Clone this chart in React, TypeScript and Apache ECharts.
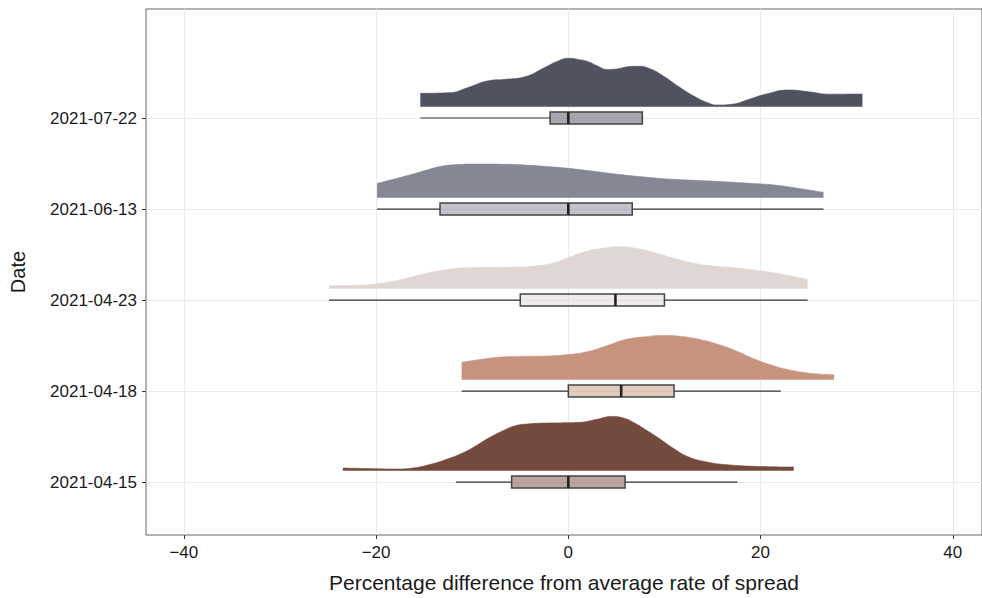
import React, { useEffect, useRef } from "react";
import * as echarts from "echarts";

// Categories (bottom to top)
const dates = ["2021-04-15", "2021-04-18", "2021-04-23", "2021-06-13", "2021-07-22"];
const fillColors = ["#744a3e", "#c8937e", "#e0d7d5", "#858795", "#50525f"];

// Density curves: x values and relative density heights (fraction of row spacing)
const dens0415X = [-23.45, -20, -17.9, -16, -14.5, -12.8, -11, -9.6, -8.3, -6.8, -5.5, -4, -2.4, 1, 3, 4.5, 5.8, 6.9, 8.3, 9.65, 11, 12.4, 14.3, 16.55, 20, 23.45];
const dens0415Y = [0.03, 0.022, 0.019, 0.033, 0.066, 0.121, 0.195, 0.275, 0.359, 0.44, 0.495, 0.516, 0.524, 0.531, 0.566, 0.597, 0.577, 0.524, 0.434, 0.341, 0.242, 0.157, 0.099, 0.066, 0.047, 0.041];

const dens0418X = [-11.1, -9, -6.55, -4.3, -2.07, 0, 2.07, 4, 5.87, 8, 10, 12, 13.8, 15.7, 17.6, 19.3, 21, 22.7, 24.5, 26, 27.65];
const dens0418Y = [0.19, 0.225, 0.252, 0.258, 0.262, 0.277, 0.311, 0.374, 0.44, 0.473, 0.487, 0.473, 0.44, 0.385, 0.311, 0.231, 0.165, 0.115, 0.08, 0.064, 0.055];

const dens0423X = [-24.9, -22, -19.8, -17.5, -15.5, -12.8, -10.3, -7.8, -5.2, -3.5, -1.7, 0, 1.72, 3.5, 5.5, 7, 8.6, 10.8, 13.1, 15, 17.2, 20.7, 22.8, 24.9];
const dens0423Y = [0.033, 0.038, 0.055, 0.099, 0.151, 0.209, 0.232, 0.236, 0.238, 0.25, 0.279, 0.341, 0.407, 0.445, 0.462, 0.445, 0.407, 0.341, 0.279, 0.25, 0.232, 0.187, 0.148, 0.103];

const dens0613X = [-19.9, -18.2, -16.55, -14.8, -13.1, -11.4, -9.65, -7, -4.5, -2.2, 0, 3, 5.87, 8.4, 11, 13.6, 16.2, 18.8, 21.4, 24, 26.55];
const dens0613Y = [0.157, 0.203, 0.249, 0.302, 0.348, 0.365, 0.37, 0.368, 0.359, 0.343, 0.323, 0.286, 0.249, 0.223, 0.202, 0.189, 0.176, 0.159, 0.14, 0.102, 0.059];

const dens0722X = [-15.4, -12.4, -10.5, -8.3, -6.5, -4.5, -2.5, -1, 0, 1, 2.07, 3, 4, 5, 6.2, 7.2, 8.5, 10, 11.5, 13, 14.5, 15.5, 17, 18.6, 20.5, 23, 25, 27.2, 30.6];
const dens0722Y = [0.147, 0.154, 0.209, 0.286, 0.302, 0.33, 0.429, 0.505, 0.532, 0.52, 0.495, 0.45, 0.41, 0.415, 0.44, 0.445, 0.418, 0.33, 0.22, 0.121, 0.044, 0.019, 0.027, 0.074, 0.137, 0.184, 0.165, 0.138, 0.14];

const densX = [dens0415X, dens0418X, dens0423X, dens0613X, dens0722X];
const densY = [dens0415Y, dens0418Y, dens0423Y, dens0613Y, dens0722Y];

// Box stats: [lower whisker, Q1, median, Q3, upper whisker]
const box0415 = [-11.7, -5.9, 0, 5.9, 17.6];
const box0418 = [-11.1, 0.0, 5.5, 11.0, 22.1];
const box0423 = [-24.9, -5.0, 4.9, 10.0, 24.9];
const box0613 = [-19.9, -13.35, 0, 6.65, 26.55];
const box0722 = [-15.4, -1.9, 0, 7.7, 7.7];
const boxes = [box0415, box0418, box0423, box0613, box0722];

const xTicks = [-40, -20, 0, 20, 40];
const yTicks = [0, 1, 2, 3, 4];

const DENS_OFFSET = 0.124;
const BOX_HALF = 0.066;
const FONT = "'Liberation Sans', Arial, Helvetica, sans-serif";

function withAlpha(hex: string, a: number) {
  const r = parseInt(hex.slice(1, 3), 16);
  const g = parseInt(hex.slice(3, 5), 16);
  const b = parseInt(hex.slice(5, 7), 16);
  return `rgba(${r},${g},${b},${a})`;
}

export default function App() {
  const ref = useRef<HTMLDivElement>(null);
  useEffect(() => {
    if (!ref.current) return;
    const chart = echarts.init(ref.current, null, { renderer: "svg" });

    const densitySeries = densX.map((xs, i) => ({
      type: "line",
      name: dates[i],
      data: xs.map((x, j) => [x, i + DENS_OFFSET + densY[i][j]]),
      smooth: 0.5,
      symbol: "none",
      silent: true,
      z: 2,
      lineStyle: { width: 0.6, color: fillColors[i], opacity: 1 },
      areaStyle: { origin: i + DENS_OFFSET, color: fillColors[i], opacity: 1 },
    }));

    const boxSeries = {
      type: "custom",
      z: 3,
      silent: true,
      encode: { x: [1, 2, 3, 4, 5], y: 0 },
      data: boxes.map((b, i) => [i, ...b]),
      renderItem: (params: any, api: any) => {
        const idx = params.dataIndex;
        const y = api.value(0);
        const low = api.coord([api.value(1), y]);
        const q1 = api.coord([api.value(2), y]);
        const med = api.coord([api.value(3), y]);
        const q3 = api.coord([api.value(4), y]);
        const high = api.coord([api.value(5), y]);
        const h = api.size([0, BOX_HALF])[1];
        const children: any[] = [
          {
            type: "line",
            shape: { x1: low[0], y1: low[1], x2: q1[0], y2: q1[1] },
            style: { stroke: "#333333", lineWidth: 1.2 },
          },
          {
            type: "line",
            shape: { x1: q3[0], y1: q3[1], x2: high[0], y2: high[1] },
            style: { stroke: "#333333", lineWidth: 1.2 },
          },
          {
            type: "rect",
            shape: { x: q1[0], y: q1[1] - h, width: q3[0] - q1[0], height: 2 * h },
            style: { fill: withAlpha(fillColors[idx], 0.5), stroke: "#444444", lineWidth: 1.5 },
          },
          {
            type: "line",
            shape: { x1: med[0], y1: med[1] - h, x2: med[0], y2: med[1] + h },
            style: { stroke: "#222222", lineWidth: 2.6 },
          },
        ];
        return { type: "group", children };
      },
    };

    chart.setOption({
      animation: false,
      grid: {
        left: 146,
        right: -2,
        top: 9,
        bottom: 63,
        show: true,
        borderColor: "#666666",
        borderWidth: 1,
        backgroundColor: "transparent",
      },
      xAxis: {
        type: "value",
        min: -43.94,
        max: 43.04,
        name: "Percentage difference from average rate of spread",
        nameLocation: "middle",
        nameGap: 37,
        nameTextStyle: { fontFamily: FONT, fontSize: 21, color: "#1a1a1a" },
        axisLine: { show: false, onZero: false },
        axisTick: { show: true, length: 4, lineStyle: { color: "#333333" }, customValues: xTicks },
        axisLabel: {
          customValues: xTicks,
          margin: 9,
          fontFamily: FONT,
          fontSize: 17,
          color: "#1a1a1a",
          formatter: (v: number) => (v < 0 ? "\u2212" + Math.abs(v) : String(v)),
        },
        splitLine: { show: true, lineStyle: { color: "#ebebeb", width: 1 } },
      },
      yAxis: {
        type: "value",
        min: -0.582,
        max: 5.198,
        name: "Date",
        nameLocation: "middle",
        nameGap: 118,
        nameRotate: 90,
        nameTextStyle: { fontFamily: FONT, fontSize: 20, color: "#1a1a1a" },
        axisLine: { show: false, onZero: false },
        axisTick: { show: true, length: 4, lineStyle: { color: "#333333" }, customValues: yTicks },
        axisLabel: {
          customValues: yTicks,
          margin: 9,
          fontFamily: FONT,
          fontSize: 17,
          color: "#1a1a1a",
          formatter: (v: number) => dates[Math.round(v)] ?? "",
        },
        splitLine: { show: true, lineStyle: { color: "#ebebeb", width: 1 } },
      },
      series: [...densitySeries, boxSeries],
    });

    return () => chart.dispose();
  }, []);

  return (
    <div
      ref={ref}
      style={{ position: "absolute", left: 0, top: 0, width: 982, height: 598 }}
    />
  );
}
